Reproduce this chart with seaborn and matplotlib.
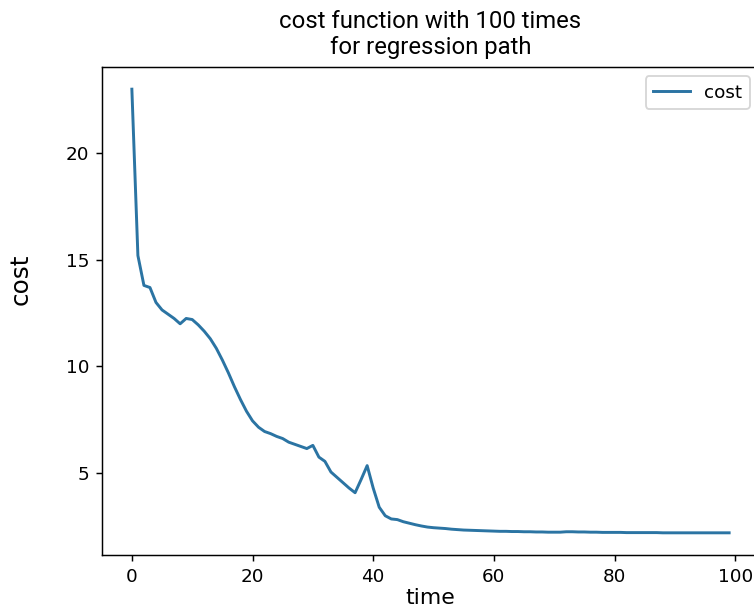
import numpy as np
import pandas as pd
import seaborn as sns
import matplotlib.pyplot as plt

# cost value for each of the 100 iterations
times = list(range(100))
cost = [23.0, 15.2, 13.8, 13.7, 13.0, 12.65, 12.45, 12.25, 12.0, 12.25,
        12.2, 11.95, 11.65, 11.3, 10.85, 10.3, 9.7, 9.05, 8.45, 7.9,
        7.45, 7.15, 6.95, 6.85, 6.72, 6.62, 6.45, 6.35, 6.25, 6.15,
        6.3, 5.75, 5.55, 5.05, 4.8, 4.55, 4.3, 4.08, 4.7, 5.35,
        4.3, 3.4, 3.0, 2.85, 2.82, 2.72, 2.65, 2.58, 2.52, 2.47,
        2.44, 2.42, 2.40, 2.37, 2.35, 2.33, 2.32, 2.31, 2.30, 2.29,
        2.28, 2.27, 2.27, 2.26, 2.26, 2.25, 2.25, 2.24, 2.24, 2.23,
        2.23, 2.23, 2.25, 2.25, 2.24, 2.24, 2.23, 2.23, 2.22, 2.22,
        2.22, 2.22, 2.21, 2.21, 2.21, 2.21, 2.21, 2.21, 2.20, 2.20,
        2.20, 2.20, 2.20, 2.20, 2.20, 2.20, 2.20, 2.20, 2.20, 2.20]

df = pd.DataFrame({'time': times, 'cost': cost})

plt.rcParams['font.family'] = ['DejaVu Sans']
fig = plt.figure(figsize=(754 / 132, 610 / 132), dpi=132)
ax = fig.add_axes([102 / 754, 55 / 610, 657 / 754, 488 / 610])

sns.lineplot(data=df, x='time', y='cost', color='#2b74a3', linewidth=1.6, label='cost', ax=ax)

ax.set_title('cost function with 100 times\nfor regression path', family=['Roboto', 'DejaVu Sans'], fontsize=13, pad=7)
ax.set_xlabel('time', fontsize=12, labelpad=1)
ax.set_ylabel('cost', fontsize=13.5)
ax.yaxis.set_label_coords(-0.105, 0.565)
ax.set_xticks([0, 20, 40, 60, 80, 100])
ax.set_yticks([5, 10, 15, 20])
ax.legend(loc='upper right')

fig.savefig('out.png', dpi=132)
